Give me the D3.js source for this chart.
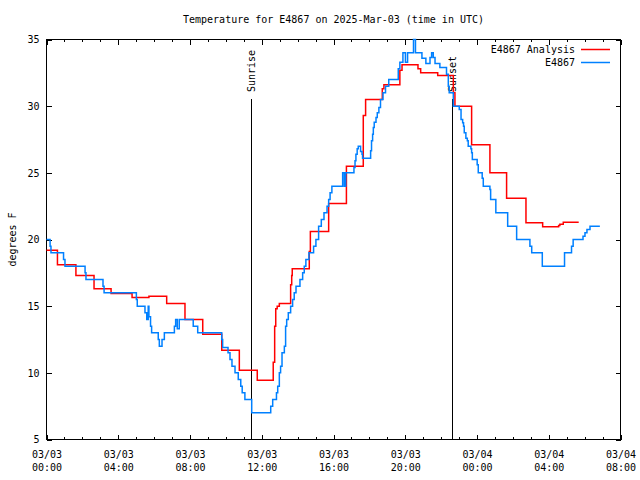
<!DOCTYPE html>
<html><head><meta charset="utf-8">
<script src="https://cdn.jsdelivr.net/npm/d3@7"></script>
<style>
body{margin:0;background:#fff}
svg{display:block}
text{font-family:"DejaVu Sans Mono",monospace;font-size:10px;fill:#000}
</style>
</head><body>
<svg id="c" width="640" height="480"></svg>
<script>
const title = "Temperature for E4867 on 2025-Mar-03 (time in UTC)";
const yLabel = "degrees F";
const seriesNames = ["E4867 Analysis", "E4867"];
const seriesColors = ["#ff0000", "#0080ff"];
const startTime = "2025-03-03T00:00:00Z";
const endTime = "2025-03-04T08:00:00Z";
const yTicks = [5, 10, 15, 20, 25, 30, 35];
const xMajorHours = [0, 4, 8, 12, 16, 20, 24, 28, 32];
const sunriseHour = 11.43;
const sunsetHour = 22.65;
const eventLabels = ["Sunrise", "Sunset"];

// hours since 2025-03-03 00:00 UTC
const analysisHours = [0.00,0.61,1.64,2.65,3.60,4.77,5.71,6.70,7.72,8.71,9.77,10.75,11.75,12.64,12.72,12.78,12.86,12.98,13.61,13.67,13.70,14.65,14.71,15.73,16.72,17.66,17.79,18.72,18.81,19.70,19.82,20.71,20.86,21.81,22.68,22.77,23.70,24.72,25.65,26.73,27.66,28.55,28.62,28.81,29.67];
const analysisTemps = [19.2,18.1,17.3,16.3,15.95,15.65,15.75,15.2,14.0,12.9,11.7,10.2,9.45,10.8,13.5,14.8,15.0,15.2,16.6,17.3,17.8,19.1,20.6,22.7,25.5,29.3,30.5,31.3,31.6,32.7,33.1,32.8,32.5,32.3,31.0,30.0,27.1,25.0,23.1,21.25,20.95,21.05,21.15,21.3,21.3];

const obsHours = [0.00,0.20,0.25,0.95,1.03,2.15,2.20,3.15,3.21,5.01,5.06,5.49,5.59,5.67,5.71,5.80,5.86,6.23,6.29,6.44,6.57,7.13,7.20,7.29,7.40,8.18,8.43,9.77,9.82,10.12,10.23,10.34,10.51,10.69,10.83,10.91,11.06,11.44,12.50,12.61,12.82,12.89,12.98,13.05,13.13,13.26,13.33,13.39,13.48,13.61,13.72,13.81,13.91,14.13,14.28,14.37,14.46,14.63,14.89,15.02,15.17,15.32,15.47,15.64,15.73,15.81,15.91,16.51,16.60,16.68,17.14,17.20,17.25,17.32,17.38,17.51,17.59,17.62,18.07,18.12,18.18,18.22,18.27,18.37,18.44,18.53,18.62,18.76,18.90,19.08,19.61,19.70,19.87,20.01,20.13,20.46,20.57,20.93,21.15,21.38,21.47,21.56,21.66,21.93,22.30,22.40,22.45,22.68,23.01,23.11,23.20,23.25,23.29,23.38,23.46,23.51,23.66,23.70,23.74,24.01,24.07,24.29,24.35,24.72,24.76,25.05,25.71,26.21,26.95,27.05,27.64,28.88,29.27,29.36,29.91,30.02,30.13,30.30,30.85];
const obsTemps = [20.0,19.5,19.0,18.5,18.0,17.5,17.0,16.5,16.0,15.5,15.0,14.5,14.0,15.0,14.2,13.5,13.0,12.5,12.0,12.5,13.0,13.5,14.0,13.3,14.0,13.5,13.0,12.5,11.9,11.5,11.0,10.5,10.0,9.5,9.0,8.5,8.0,7.0,7.5,8.0,8.5,9.0,10.0,10.5,11.5,12.0,13.5,14.0,14.5,15.0,15.5,16.0,16.5,17.0,17.5,18.0,18.5,19.0,19.5,20.0,21.0,21.5,22.0,22.5,23.0,23.5,24.0,25.0,24.0,25.0,25.4,25.9,26.4,26.8,27.0,26.6,26.4,26.1,26.65,27.4,27.9,28.4,28.8,29.15,29.5,29.9,30.5,31.0,31.5,32.0,32.8,33.3,34.0,33.3,34.0,35.0,34.0,33.6,33.2,33.65,34.0,33.65,33.2,32.9,32.4,31.5,31.0,30.0,29.75,29.0,28.75,28.5,28.0,27.6,27.4,27.0,26.8,26.5,26.0,25.6,25.0,24.6,24.0,23.75,23.0,22.0,21.0,20.0,19.5,19.0,18.0,19.0,19.5,20.0,20.25,20.5,20.75,21.0,21.0];

const t0 = new Date(startTime).getTime();
const toDate = h => new Date(t0 + h * 3600e3);

const L = 46.5, R = 620.5, T = 39.5, B = 439.5;
const svg = d3.select("#c");
const x = d3.scaleUtc().domain([new Date(startTime), new Date(endTime)]).range([L, R]);
const y = d3.scaleLinear().domain([5, 35]).range([B, T]);

const majorDates = xMajorHours.map(toDate);
const minorDates = d3.range(0, 33).filter(h => h % 4 !== 0).map(toDate);

function styleAxis(g) {
  g.select(".domain").remove();
  g.attr("font-family", null).attr("font-size", null);
  g.selectAll("line").attr("stroke", "#000").attr("shape-rendering", "crispEdges");
}

// x axes (bottom & top), ticks inward
svg.append("g").attr("transform", `translate(0,${B})`)
  .call(d3.axisBottom(x).tickValues(minorDates).tickSize(-2.5).tickFormat("")).call(styleAxis);
svg.append("g").attr("transform", `translate(0,${T})`)
  .call(d3.axisTop(x).tickValues(minorDates).tickSize(-2.5).tickFormat("")).call(styleAxis);
svg.append("g").attr("transform", `translate(0,${T})`)
  .call(d3.axisTop(x).tickValues(majorDates).tickSize(-5).tickFormat("")).call(styleAxis);
const gxb = svg.append("g").attr("transform", `translate(0,${B})`)
  .call(d3.axisBottom(x).tickValues(majorDates).tickSize(-5).tickFormat(""))
  .call(styleAxis);
const fDay = d3.utcFormat("%m/%d"), fTime = d3.utcFormat("%H:%M");
gxb.selectAll(".tick text").each(function(d) {
  const t = d3.select(this).attr("y", null).attr("dy", null).attr("fill", "#000");
  t.append("tspan").attr("x", 0).attr("y", 18).text(fDay(d));
  t.append("tspan").attr("x", 0).attr("y", 31).text(fTime(d));
});

// y axes (left with labels, right)
svg.append("g").attr("transform", `translate(${L},0)`)
  .call(d3.axisLeft(y).tickValues(yTicks).tickSize(-5).tickPadding(7).tickFormat(d3.format("d")))
  .call(styleAxis)
  .selectAll("text").attr("fill", "#000");
svg.append("g").attr("transform", `translate(${R},0)`)
  .call(d3.axisRight(y).tickValues(yTicks).tickSize(-5).tickFormat(""))
  .call(styleAxis);

// frame
svg.append("rect").attr("x", L).attr("y", T).attr("width", R - L).attr("height", B - T)
  .attr("fill", "none").attr("stroke", "#000").attr("shape-rendering", "crispEdges");

// sunrise / sunset
[sunriseHour, sunsetHour].forEach((h, i) => {
  const xx = Math.floor(x(toDate(h))) + 0.5;
  svg.append("line").attr("x1", xx).attr("x2", xx).attr("y1", 99).attr("y2", B)
    .attr("stroke", "#000").attr("shape-rendering", "crispEdges");
  svg.append("text").attr("transform", `translate(${xx},92) rotate(-90)`)
    .attr("dy", "0.35em").attr("text-anchor", "start").text(eventLabels[i]);
});

// series
const line = d3.line().x(d => x(d[0])).y(d => y(d[1])).curve(d3.curveStepAfter);
const analysis = analysisHours.map((h, i) => [toDate(h), analysisTemps[i]]);
const obs = obsHours.map((h, i) => [toDate(h), obsTemps[i]]);
[analysis, obs].forEach((s, i) => {
  svg.append("path").datum(s).attr("d", line).attr("fill", "none")
    .attr("stroke", seriesColors[i]).attr("stroke-width", 1.5);
});

// legend
seriesNames.forEach((n, i) => {
  const ly = 49.5 + i * 13;
  svg.append("text").attr("x", 575).attr("y", ly).attr("dy", "0.35em")
    .attr("text-anchor", "end").text(n);
  svg.append("line").attr("x1", 581).attr("x2", 610).attr("y1", ly).attr("y2", ly)
    .attr("stroke", seriesColors[i]).attr("stroke-width", 1.5);
});

// title & y label
svg.append("text").attr("x", (L + R) / 2).attr("y", 19).attr("dy", "0.35em")
  .attr("text-anchor", "middle").text(title);
svg.append("text").attr("transform", `translate(12,${(T + B) / 2}) rotate(-90)`)
  .attr("dy", "0.35em").attr("text-anchor", "middle").text(yLabel);
</script>
</body></html>
